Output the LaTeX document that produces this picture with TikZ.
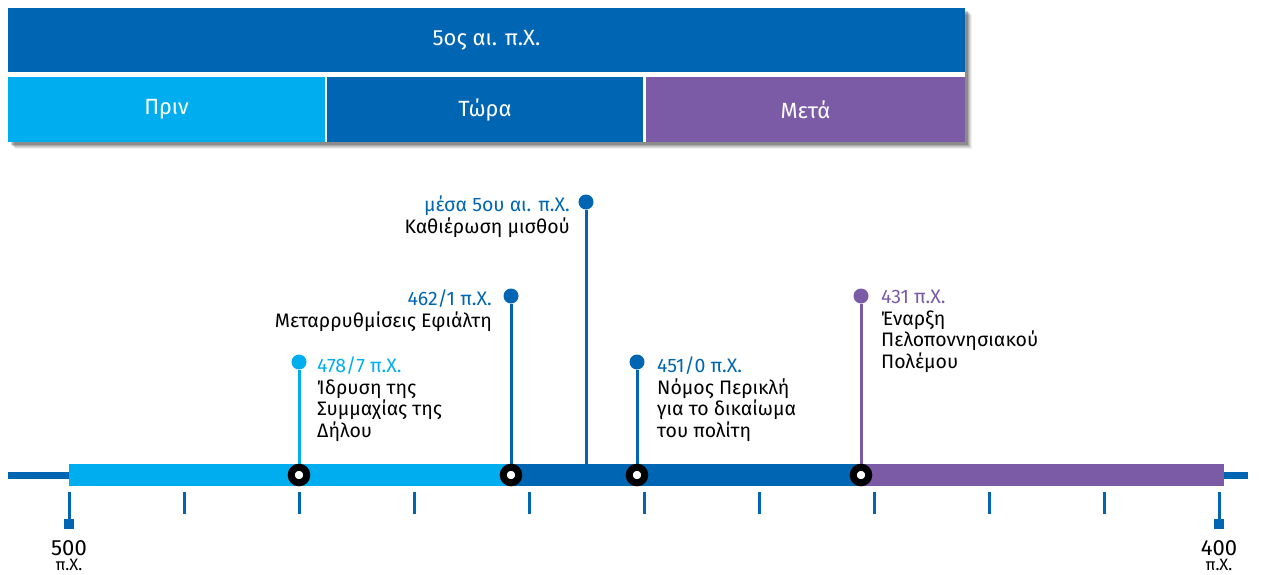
\documentclass[tikz,border=0pt]{standalone}
\usepackage{fontspec}
\setmainfont{Fira Sans}
\usetikzlibrary{positioning}
\definecolor{tl.light}{HTML}{00AEEF}
\definecolor{tl.dark}{HTML}{0066B3}
\definecolor{tl.purple}{HTML}{7B5BA6}

\begin{document}
\begin{tikzpicture}[x=1pt,y=-1pt]
  \tikzset{bar/.style={rectangle, inner sep=0, text=white,
      font=\fontsize{22}{26}\selectfont},
    ring/.style={circle, fill=white, draw=black, line width=7pt,
      inner sep=0, minimum size=15.5pt},
    dot/.style={circle, inner sep=0, minimum size=15pt},
    stem/.style={line width=3pt},
    tick/.style={tl.dark, line width=3pt},
    sq/.style={fill=tl.dark, inner sep=0, minimum size=10pt},
    year/.style={inner sep=0, anchor=north, align=center,
      font=\fontsize{16.5}{15.5}\selectfont},
    lbl/.style={inner sep=0, font=\fontsize{19.5}{21.5}\selectfont}}
  \useasboundingbox (0,0) rectangle (1276,574);

  % shadow of the header
  \foreach \d/\o in {7/0.06,6/0.08,5/0.1,4/0.14,3/0.18}
    \fill[black, opacity=\o] (8+\d,8+\d) rectangle (965+\d,142+\d);
  \fill[white] (8,8) rectangle (965,142);

  \node[bar, fill=tl.dark, minimum width=957pt, minimum height=64pt]
    (era) at (486.5,40) {5ος αι. π.Χ.};
  \node[bar, fill=tl.light, minimum width=317pt, minimum height=65pt]
    (prin) at (166.5,109.5) {Πριν};
  \node[bar, fill=tl.dark, minimum width=316pt, minimum height=65pt]
    (tora) at (485,109.5) {Τώρα};
  \node[bar, fill=tl.purple, minimum width=319pt, minimum height=65pt]
    (meta) at (805.5,109.5) {Μετά};

  % time axis
  \draw[tl.dark, line width=7pt] (8,475) -- (1248,475);
  \fill[tl.light] (69,464) rectangle (511,486);
  \fill[tl.dark] (511,464) rectangle (861,486);
  \fill[tl.purple] (861,464) rectangle (1224,486);
  \foreach \i in {1,...,9}
    \draw[tick] (69+115*\i,492) -- ++(0,22);

  \node[sq] (sq1) at (69,524) {};
  \node[sq] (sq2) at (1219,524) {};
  \coordinate (t1) at (69,492);
  \coordinate (t2) at (1219,492);
  \draw[tick] (t1) -- (sq1);
  \draw[tick] (t2) -- (sq2);
  \node[year] (y500) at (69,540)
    {{\fontsize{22}{15.5}\selectfont 500}\\π.Χ.};
  \node[year] (y400) at (1219,540)
    {{\fontsize{22}{15.5}\selectfont 400}\\π.Χ.};

  % events
  \node[dot, fill=tl.light] (dot1) at (299,362) {};
  \node[dot, fill=tl.dark] (dot2) at (511,296) {};
  \node[dot, fill=tl.dark] (dot3) at (586,202) {};
  \node[dot, fill=tl.dark] (dot4) at (637,362) {};
  \node[dot, fill=tl.purple] (dot5) at (861,296) {};
  \coordinate (top3) at (586,464);

  \node[ring] (ring1) at (299,475) {};
  \node[ring] (ring2) at (511,475) {};
  \node[ring] (ring4) at (637,475) {};
  \node[ring] (ring5) at (861,475) {};

  \draw[stem, tl.light] (dot1) -- (ring1);
  \draw[stem, tl.dark] (dot2) -- (ring2);
  \draw[stem, tl.dark] (dot3) -- (top3);
  \draw[stem, tl.dark] (dot4) -- (ring4);
  \draw[stem, tl.purple] (dot5) -- (ring5);

  \node[lbl, anchor=north west, align=left] (ev1) at (317,357)
    {\textcolor{tl.light}{478/7 π.Χ.}\\Ίδρυση της\\Συμμαχίας της\\Δήλου};
  \node[lbl, anchor=north east, align=right] (ev2) at (492,290)
    {\textcolor{tl.dark}{462/1 π.Χ.}\\Μεταρρυθμίσεις Εφιάλτη};
  \node[lbl, anchor=north east, align=right] (ev3) at (570,196)
    {\textcolor{tl.dark}{μέσα 5ου αι. π.Χ.}\\Καθιέρωση μισθού};
  \node[lbl, anchor=north west, align=left] (ev4) at (657,357)
    {\textcolor{tl.dark}{451/0 π.Χ.}\\Νόμος Περικλή\\για το δικαίωμα\\του πολίτη};
  \node[lbl, anchor=north west, align=left] (ev5) at (881,290)
    {\textcolor{tl.purple}{431 π.Χ.}\\Έναρξη\\Πελοποννησιακού\\Πολέμου};
\end{tikzpicture}
\end{document}
